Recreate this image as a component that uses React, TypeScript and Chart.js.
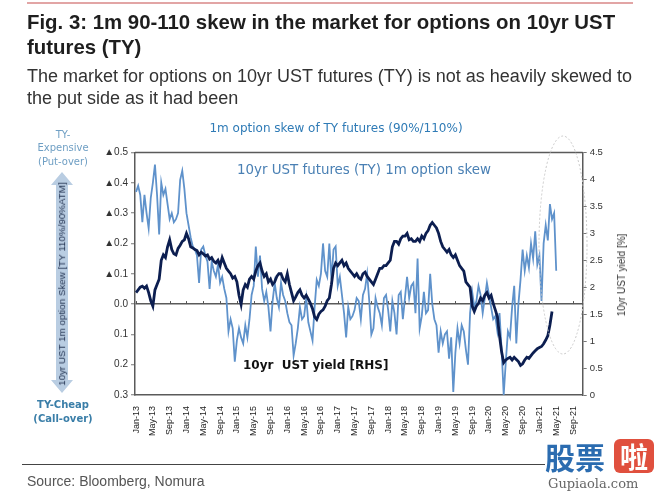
import React, { useEffect, useRef } from 'react';
import { Chart, registerables } from 'chart.js';

Chart.register(...registerables);

// ---- Data (x = months since Jan-13) ----
const xTickMonths = [0, 4, 8, 12, 16, 20, 24, 28, 32, 36, 40, 44, 48, 52, 56, 60, 64, 68, 72, 76, 80, 84, 88, 92, 96, 100, 104];
const xTickLabels = [
  'Jan-13', 'May-13', 'Sep-13', 'Jan-14', 'May-14', 'Sep-14', 'Jan-15', 'May-15', 'Sep-15',
  'Jan-16', 'May-16', 'Sep-16', 'Jan-17', 'May-17', 'Sep-17', 'Jan-18', 'May-18', 'Sep-18',
  'Jan-19', 'May-19', 'Sep-19', 'Jan-20', 'May-20', 'Sep-20', 'Jan-21', 'May-21', 'Sep-21',
];

// 1m option skew (left axis), half-month steps from Jan-13
const skewValues = [
  0.37, 0.39, 0.36, 0.27, 0.36, 0.30, 0.25, 0.35, 0.40, 0.46,
  0.36, 0.23, 0.40, 0.36, 0.38, 0.33, 0.28, 0.30, 0.27, 0.28,
  0.30, 0.41, 0.44, 0.38, 0.30, 0.26, 0.22, 0.19, 0.18, 0.16,
  0.07, 0.18, 0.19, 0.16, 0.14, 0.05, 0.14, 0.11, 0.09, 0.13,
  0.07, 0.09, 0.05, 0.02, -0.09, -0.05, -0.08, -0.19, -0.12, -0.08,
  -0.11, -0.13, -0.07, -0.11, -0.05, 0.03, 0.06, 0.19, 0.09, 0.16,
  0.05, 0.01, 0.04, -0.01, -0.09, 0.01, 0.07, 0.02, -0.01, 0.07,
  0.03, 0.01, -0.03, -0.06, -0.07, -0.17, -0.13, -0.08, -0.01, -0.05,
  -0.04, 0.02, -0.06, -0.09, -0.12, -0.01, 0.08, 0.06, 0.10, 0.20,
  0.11, 0.09, 0.20, 0.08, 0.18, 0.19, 0.06, 0.09, 0.03, -0.03,
  -0.11, -0.01, -0.05, -0.04, -0.02, 0.02, 0.01, -0.05, 0.03, 0.05,
  0.10, 0.01, -0.10, -0.08, 0.02, -0.01, -0.03, -0.07, 0.02, 0.03,
  -0.02, -0.09, 0.01, -0.03, -0.10, 0.03, 0.04, -0.05, 0.02, 0.09,
  0.02, 0.06, 0.07, -0.03, 0.15, -0.08, -0.04, 0.04, -0.03, -0.02,
  0.10, 0.00, -0.05, -0.07, -0.16, -0.09, -0.13, -0.10, -0.09, -0.18,
  -0.11, -0.29, -0.16, -0.08, -0.13, -0.07, -0.09, -0.15, -0.20, -0.03,
  0.04, -0.01, 0.01, 0.06, 0.03, -0.03, 0.02, 0.07, 0.03, -0.01,
  -0.05, -0.04, -0.09, -0.03, -0.15, -0.30, -0.19, -0.09, -0.11, -0.01,
  0.06, -0.13, 0.00, 0.08, 0.18, 0.11, 0.16, 0.12, 0.20, 0.15,
  0.24, 0.13, 0.16, 0.01, 0.20, 0.26, 0.21, 0.33, 0.28, 0.30,
  0.11,
];

// 10yr UST yield (right axis, %), half-month steps from Jan-13
const yieldValues = [
  1.90, 1.95, 2.00, 2.02, 1.98, 2.02, 1.90, 1.75, 1.65, 1.95,
  2.05, 2.15, 2.50, 2.60, 2.55, 2.75, 2.88, 2.70, 2.62, 2.60,
  2.72, 2.78, 2.85, 2.88, 3.00, 2.90, 2.75, 2.73, 2.70, 2.68,
  2.60, 2.65, 2.62, 2.58, 2.60, 2.52, 2.55, 2.48, 2.45, 2.50,
  2.40, 2.55, 2.45, 2.35, 2.30, 2.25, 2.17, 2.20, 2.10, 1.85,
  1.68, 1.95, 2.05, 2.00, 2.15, 2.20, 2.15, 2.30, 2.40, 2.45,
  2.30, 2.20, 2.25, 2.10, 2.15, 2.05, 2.10, 2.20, 2.25, 2.25,
  2.15, 2.10, 2.25, 2.05, 1.90, 1.75, 1.82, 1.90, 1.95, 1.85,
  1.80, 1.85, 1.78, 1.70, 1.60, 1.45, 1.40, 1.50, 1.55, 1.58,
  1.65, 1.75, 1.80, 2.05, 2.35, 2.45, 2.40, 2.45, 2.50, 2.40,
  2.45, 2.35, 2.30, 2.25, 2.20, 2.25, 2.18, 2.15, 2.25, 2.28,
  2.20, 2.15, 2.10, 2.05, 2.15, 2.25, 2.35, 2.35, 2.40, 2.40,
  2.45, 2.50, 2.75, 2.85, 2.85, 2.80, 2.90, 2.95, 2.95, 3.00,
  2.88, 2.90, 2.85, 2.85, 2.90, 2.85, 2.95, 2.90, 3.00, 3.05,
  3.15, 3.20, 3.15, 3.10, 3.00, 2.85, 2.75, 2.70, 2.65, 2.70,
  2.60, 2.55, 2.60, 2.50, 2.40, 2.35, 2.30, 2.10, 2.05, 2.00,
  1.65, 1.55, 1.65, 1.70, 1.80, 1.75, 1.85, 1.90, 1.80, 1.85,
  1.70, 1.58, 1.45, 1.10, 0.80, 0.60, 0.65, 0.68, 0.70, 0.65,
  0.70, 0.66, 0.62, 0.55, 0.58, 0.65, 0.70, 0.68, 0.73, 0.78,
  0.82, 0.86, 0.88, 0.90, 0.95, 1.02, 1.10, 1.30, 1.55,
];

const skewTicks = [-0.3, -0.2, -0.1, 0, 0.1, 0.2, 0.3, 0.4, 0.5];
const yieldTicks = [0, 0.5, 1, 1.5, 2, 2.5, 3, 3.5, 4, 4.5];

const SANS = "'Liberation Sans', Arial, sans-serif";
const DV = "'DejaVu Sans', Verdana, sans-serif";

const decor = {
  id: 'decor',
  beforeDatasetsDraw(chart: any) {
    const { ctx, scales } = chart;
    const x = scales.x;
    const zeroY = scales.yL.getPixelForValue(0);
    ctx.save();
    ctx.strokeStyle = '#555';
    ctx.lineWidth = 1;
    xTickMonths.forEach((m) => {
      const px = Math.round(x.getPixelForValue(m)) + 0.5;
      ctx.beginPath();
      ctx.moveTo(px, zeroY - 3);
      ctx.lineTo(px, zeroY);
      ctx.stroke();
    });
    ctx.restore();
  },
  afterDraw(chart: any) {
    const { ctx, chartArea: a } = chart;
    ctx.save();
    // top frame line
    ctx.strokeStyle = '#5a5a5a';
    ctx.lineWidth = 1.5;
    ctx.beginPath();
    ctx.moveTo(a.left, a.top);
    ctx.lineTo(a.right, a.top);
    ctx.stroke();
    // highlight ellipse
    ctx.strokeStyle = '#c9c9c9';
    ctx.lineWidth = 1;
    ctx.setLineDash([2, 2]);
    ctx.beginPath();
    ctx.ellipse(563, 245, 24, 109, 0, 0, Math.PI * 2);
    ctx.stroke();
    ctx.setLineDash([]);
    // double arrow on the left
    const cx = 62, top = 172, bot = 393, sw = 6, hw = 11, hl = 13;
    ctx.fillStyle = '#b9cde2';
    ctx.beginPath();
    ctx.moveTo(cx, top);
    ctx.lineTo(cx + hw, top + hl);
    ctx.lineTo(cx + sw, top + hl);
    ctx.lineTo(cx + sw, bot - hl);
    ctx.lineTo(cx + hw, bot - hl);
    ctx.lineTo(cx, bot);
    ctx.lineTo(cx - hw, bot - hl);
    ctx.lineTo(cx - sw, bot - hl);
    ctx.lineTo(cx - sw, top + hl);
    ctx.lineTo(cx - hw, top + hl);
    ctx.closePath();
    ctx.fill();
    ctx.restore();
  },
};

function Txt(props: { x: number; y: number; text: string; style: any; center?: boolean; rotate?: boolean }) {
  const { x, y, text, style, center, rotate } = props;
  let transform = 'translate(0,-50%)';
  if (center) transform = 'translate(-50%,-50%)';
  if (rotate) transform = 'translate(-50%,-50%) rotate(-90deg)';
  return (
    <div
      style={{
        position: 'absolute',
        left: x,
        top: y,
        transform,
        whiteSpace: 'pre',
        lineHeight: 1,
        pointerEvents: 'none',
        ...style,
      }}
    >
      {text}
    </div>
  );
}

export default function App() {
  const ref = useRef<HTMLCanvasElement | null>(null);

  useEffect(() => {
    if (!ref.current) return;
    const skewPoints = skewValues.map((v, i) => ({ x: i * 0.5, y: v }));
    const yieldPoints = yieldValues.map((v, i) => ({ x: i * 0.5, y: v }));
    const chart = new Chart(ref.current, {
      type: 'line',
      data: {
        datasets: [
          {
            label: '10yr UST yield [RHS]',
            data: yieldPoints,
            yAxisID: 'yR',
            borderColor: '#0c1e50',
            borderWidth: 2.8,
            pointRadius: 0,
            tension: 0,
            order: 1,
          },
          {
            label: '10yr UST futures (TY) 1m option skew',
            data: skewPoints,
            yAxisID: 'yL',
            borderColor: '#5f92cb',
            borderWidth: 1.8,
            pointRadius: 0,
            tension: 0,
            order: 2,
          },
        ],
      },
      options: {
        animation: false,
        responsive: false,
        maintainAspectRatio: false,
        layout: { padding: { top: 152.5, left: 0, right: 0, bottom: 0 } },
        plugins: { legend: { display: false }, tooltip: { enabled: false } },
        scales: {
          x: {
            type: 'linear',
            position: 'bottom',
            min: -0.25,
            max: 106.3,
            afterBuildTicks: (s: any) => {
              s.ticks = xTickMonths.map((v) => ({ value: v }));
            },
            afterFit: (s: any) => {
              s.height = 99;
            },
            ticks: {
              autoSkip: false,
              maxRotation: 90,
              minRotation: 90,
              padding: 3,
              color: '#222',
              font: { family: SANS, size: 9 },
              callback: (_v: any, i: number) => xTickLabels[i],
            },
            grid: { display: false },
            border: { display: true, color: '#5a5a5a', width: 1.5 },
          },
          yL: {
            type: 'linear',
            position: 'left',
            min: -0.3,
            max: 0.5,
            afterBuildTicks: (s: any) => {
              s.ticks = skewTicks.map((v) => ({ value: v }));
            },
            afterFit: (s: any) => {
              s.width = 135;
            },
            ticks: {
              padding: 3,
              color: '#333',
              font: { family: SANS, size: 10 },
              callback: (v: any) => {
                const n = Number(v);
                if (Math.abs(n) < 1e-9) return '0.0';
                if (n > 0) return '\u25B2' + n.toFixed(1);
                return Math.abs(n).toFixed(1);
              },
            },
            grid: {
              color: (c: any) => (c.tick && Math.abs(c.tick.value) < 1e-9 ? '#5a5a5a' : 'rgba(0,0,0,0)'),
              lineWidth: 1.5,
              tickColor: '#777',
              tickLength: 4,
              tickWidth: 1,
            },
            border: { display: true, color: '#5a5a5a', width: 1.5 },
          },
          yR: {
            type: 'linear',
            position: 'right',
            min: 0,
            max: 4.5,
            afterBuildTicks: (s: any) => {
              s.ticks = yieldTicks.map((v) => ({ value: v }));
            },
            afterFit: (s: any) => {
              s.width = 78.3;
            },
            ticks: {
              padding: 3,
              color: '#333',
              font: { family: SANS, size: 9.5 },
              callback: (v: any) => {
                const n = Number(v);
                return Number.isInteger(n) ? String(n) : n.toFixed(1);
              },
            },
            grid: { drawOnChartArea: false, tickColor: '#777', tickLength: 4, tickWidth: 1 },
            border: { display: true, color: '#5a5a5a', width: 1.5 },
          },
        },
      } as any,
      plugins: [decor],
    });
    return () => chart.destroy();
  }, []);

  return (
    <div style={{ position: 'absolute', left: 0, top: 0, width: 661, height: 494, background: '#fff', overflow: 'hidden' }}>
      <canvas ref={ref} width={661} height={494} style={{ position: 'absolute', left: 0, top: 0, width: 661, height: 494 }} />
      <div style={{ position: 'absolute', left: 27, top: 2, width: 606, height: 2, background: '#e2a5a5' }} />
      <Txt x={27} y={22} text="Fig. 3: 1m 90-110 skew in the market for options on 10yr UST" style={{ fontFamily: SANS, fontWeight: 700, fontSize: 20.4, color: '#1e1e1e' }} />
      <Txt x={27} y={47} text="futures (TY)" style={{ fontFamily: SANS, fontWeight: 700, fontSize: 20.4, color: '#1e1e1e' }} />
      <Txt x={27} y={76} text="The market for options on 10yr UST futures (TY) is not as heavily skewed to" style={{ fontFamily: SANS, fontSize: 18, color: '#333' }} />
      <Txt x={27} y={98} text="the put side as it had been" style={{ fontFamily: SANS, fontSize: 18, color: '#333' }} />

      <Txt x={336} y={128} center text="1m option skew of TY futures (90%/110%)" style={{ fontFamily: DV, fontSize: 12, color: '#2f7bb6' }} />
      <Txt x={237} y={170} text="10yr UST futures (TY) 1m option skew" style={{ fontFamily: DV, fontSize: 13.4, color: '#4a80b4' }} />
      <Txt x={243} y={365} text="10yr  UST yield [RHS]" style={{ fontFamily: DV, fontWeight: 700, fontSize: 12, color: '#111' }} />

      <Txt x={63} y={135} center text="TY-" style={{ fontFamily: DV, fontSize: 10, color: '#6f9fc4' }} />
      <Txt x={63} y={148} center text="Expensive" style={{ fontFamily: DV, fontSize: 10, color: '#6f9fc4' }} />
      <Txt x={63} y={162} center text="(Put-over)" style={{ fontFamily: DV, fontSize: 10, color: '#6f9fc4' }} />
      <Txt x={63} y={405} center text="TY-Cheap" style={{ fontFamily: DV, fontWeight: 700, fontSize: 10, color: '#3a7ea8' }} />
      <Txt x={63} y={419} center text="(Call-over)" style={{ fontFamily: DV, fontWeight: 700, fontSize: 10, color: '#3a7ea8' }} />
      <Txt x={62} y={284} rotate text="10yr UST 1m option Skew [TY 110%/90%ATM]" style={{ fontFamily: SANS, fontSize: 9.8, color: '#1b2b4a' }} />
      <Txt x={622} y={275} rotate text="10yr UST yield [%]" style={{ fontFamily: SANS, fontSize: 10, color: '#333' }} />

      <div style={{ position: 'absolute', left: 22, top: 464, width: 523, height: 1, background: '#444' }} />
      <Txt x={27} y={481} text="Source: Bloomberg, Nomura" style={{ fontFamily: SANS, fontSize: 14, color: '#555' }} />

      <Txt x={545} y={456} text="股票" style={{ fontFamily: "'Noto Sans CJK SC', sans-serif", fontWeight: 700, fontSize: 30, color: '#2b6cb0' }} />
      <div style={{ position: 'absolute', left: 614, top: 439, width: 40, height: 34, background: '#e0503e', borderRadius: 6 }} />
      <Txt x={634} y={456} center text="啦" style={{ fontFamily: "'Noto Sans CJK SC', sans-serif", fontWeight: 700, fontSize: 28, color: '#fff' }} />
      <Txt x={548} y={483} text="Gupiaola.com" style={{ fontFamily: "'DejaVu Serif', serif", fontSize: 13, color: '#666' }} />
    </div>
  );
}
